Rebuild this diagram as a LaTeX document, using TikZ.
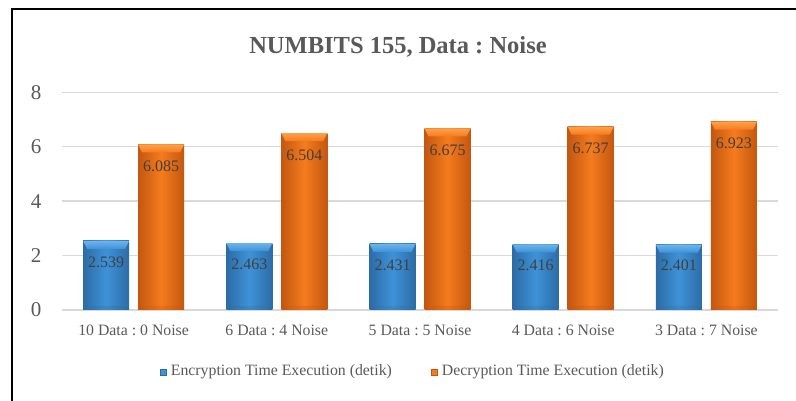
\documentclass[tikz,border=0pt]{standalone}
\usepackage{fontspec}
\setmainfont{Liberation Serif}
\usepackage{tikz}
\usetikzlibrary{positioning}
\frenchspacing

\definecolor{txtgray}{HTML}{595959}
\definecolor{valgray}{HTML}{404040}
\definecolor{gridgray}{HTML}{D9D9D9}
\definecolor{encmain}{HTML}{3E92D8}
\definecolor{encdark}{HTML}{2C6CA6}
\definecolor{enclight}{HTML}{6CB4EC}
\definecolor{decmain}{HTML}{F57B1E}
\definecolor{decdark}{HTML}{C4570F}
\definecolor{declight}{HTML}{FFA04A}

\begin{document}
\begin{tikzpicture}[
  x=1pt, y=1pt,
  gridline/.style={gridgray, line width=1.4pt},
  ylab/.style={font=\fontsize{21}{21}\selectfont, text=txtgray, inner sep=0pt},
  catlab/.style={font=\fontsize{15.8}{15.8}\selectfont, text=txtgray, inner sep=0pt},
  vallab/.style={font=\fontsize{16}{16}\selectfont, text=valgray, inner sep=0pt},
  encbar/.style={left color=encdark, right color=encdark, middle color=encmain},
  decbar/.style={left color=decdark, right color=decdark, middle color=decmain},
  legkey/.style={minimum size=6pt, inner sep=0pt}
]
  \useasboundingbox (0,0) rectangle (796,401);
  \fill[white] (0,0) rectangle (796,401);
  % chart frame
  \draw[line width=2pt] (12,0) -- (12,392) -- (797,392);
  \node[font=\bfseries\fontsize{24.5}{24.5}\selectfont, text=txtgray] (title) at (398,354) {NUMBITS 155, Data : Noise};
  % grid and y labels
  \foreach \v in {0,2,4,6,8}{
    \draw[gridline] (62,91+27.2*\v) -- (778,91+27.2*\v);
    \node[ylab] (y\v) at (36,91+27.2*\v) {\v};
  }
  % bars
  \foreach \enc/\dec/\cat [count=\i from 0] in {2.539/6.085/{10 Data : 0 Noise},2.463/6.504/{6 Data : 4 Noise},2.431/6.675/{5 Data : 5 Noise},2.416/6.737/{4 Data : 6 Noise},2.401/6.923/{3 Data : 7 Noise}}{
    \pgfmathsetmacro{\cx}{133.6+143.2*\i}
    \pgfmathsetmacro{\te}{91+27.2*\enc}
    \pgfmathsetmacro{\td}{91+27.2*\dec}
    \shade[encbar] (\cx-50.5,91) rectangle (\cx-4.5,\te);
    \shade[top color=enclight, bottom color=encmain] (\cx-50.5,\te) -- (\cx-4.5,\te) -- (\cx-8.5,\te-8) -- (\cx-46.5,\te-8) -- cycle;
    \fill[encdark, opacity=.25] (\cx-50.5,91) -- (\cx-4.5,91) -- (\cx-8.5,95) -- (\cx-46.5,95) -- cycle;
    \shade[decbar] (\cx+4.5,91) rectangle (\cx+50.5,\td);
    \shade[top color=declight, bottom color=decmain] (\cx+4.5,\td) -- (\cx+50.5,\td) -- (\cx+46.5,\td-8) -- (\cx+8.5,\td-8) -- cycle;
    \fill[decdark, opacity=.25] (\cx+4.5,91) -- (\cx+50.5,91) -- (\cx+46.5,95) -- (\cx+8.5,95) -- cycle;
    \node[vallab] (enc\i) at (\cx-27.5,\te-21) {\enc};
    \node[vallab] (dec\i) at (\cx+27.5,\td-22) {\dec};
    \node[catlab] (cat\i) at (\cx,71) {\cat};
  }
  % legend
  \node[legkey, fill=encmain, draw=encdark, line width=.4pt] (keyenc) at (163.5,29) {};
  \node[catlab, right=4pt of keyenc] (legenc) {Encryption Time Execution (detik)};
  \node[legkey, fill=decmain, draw=decdark, line width=.4pt] (keydec) at (434.5,29) {};
  \node[catlab, right=4pt of keydec] (legdec) {Decryption Time Execution (detik)};
\end{tikzpicture}
\end{document}
